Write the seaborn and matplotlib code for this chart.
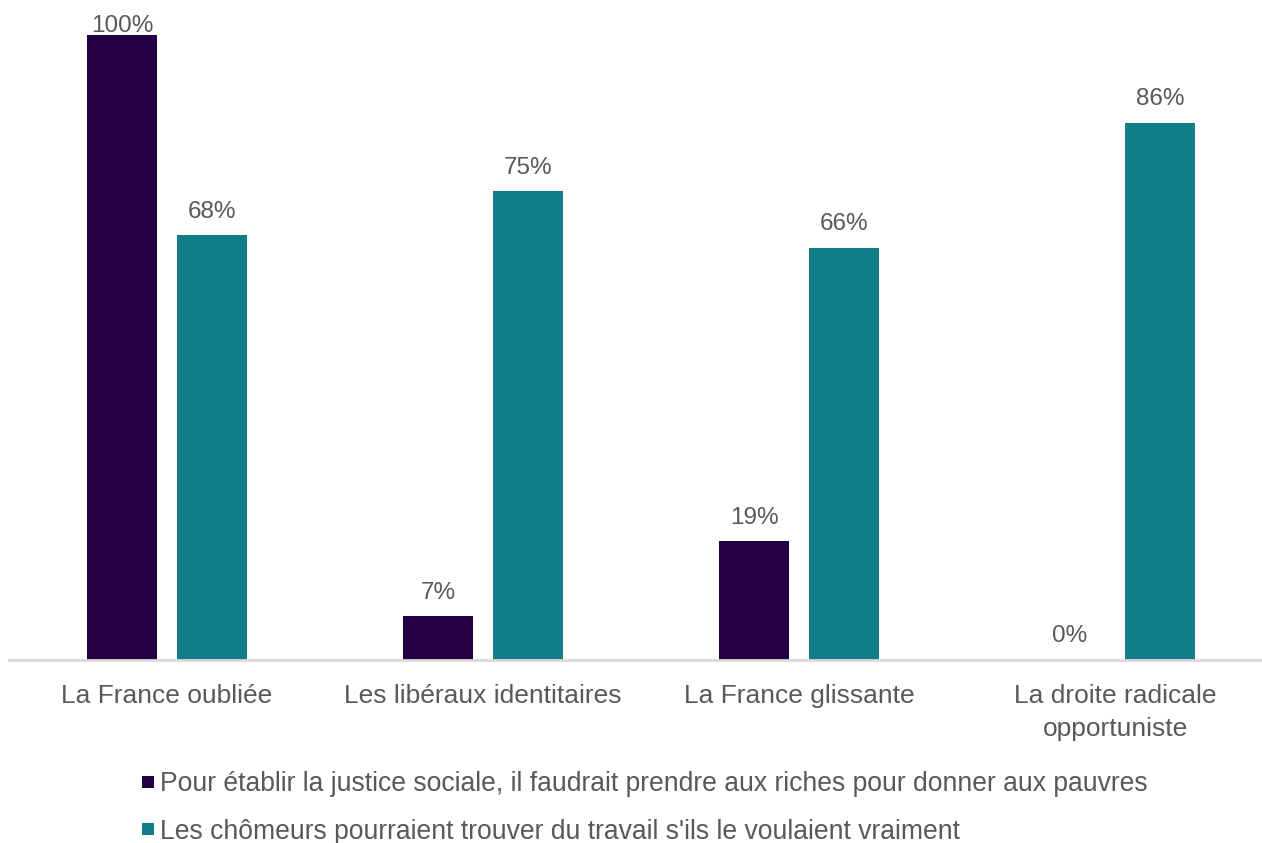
import matplotlib
matplotlib.use("Agg")
import matplotlib.pyplot as plt
import seaborn as sns
import pandas as pd
from matplotlib.lines import Line2D

categories = ["La France oubliée", "Les libéraux identitaires", "La France glissante",
              "La droite radicale\nopportuniste"]
series_names = ["Pour établir la justice sociale, il faudrait prendre aux riches pour donner aux pauvres",
                "Les chômeurs pourraient trouver du travail s'ils le voulaient vraiment"]
values_justice = [100, 7, 19, 0]
values_chomeurs = [68, 75, 66, 86]
colors = ["#230042", "#137d87"]

rows = []
for c, v in zip(categories, values_justice):
    rows.append({"cat": c, "serie": series_names[0], "val": v})
for c, v in zip(categories, values_chomeurs):
    rows.append({"cat": c, "serie": series_names[1], "val": v})
df = pd.DataFrame(rows)

sns.set_theme(style="white")
plt.rcParams["font.family"] = ["Liberation Sans", "DejaVu Sans"]
text_color = "#595959"

W, H = 1262, 843
fig = plt.figure(figsize=(W / 100, H / 100), dpi=100)
ax = fig.add_axes([9 / W, 183 / H, 1253 / W, 660 / H])

sns.barplot(data=df, x="cat", y="val", hue="serie", order=categories,
            hue_order=series_names, palette=colors, saturation=1,
            width=0.57, gap=0.22, linewidth=0, legend=False, ax=ax)

ax.set_ylim(0, 105.6)
ax.set_xlim(-0.5, -0.5 + 1253 / 316)
ax.set_xlabel("")
ax.set_ylabel("")
ax.set_yticks([])
for s in ["top", "right", "left"]:
    ax.spines[s].set_visible(False)
ax.spines["bottom"].set_color("#d9d9d9")
ax.spines["bottom"].set_linewidth(2)
ax.tick_params(axis="x", length=0, pad=17, labelsize=19, labelcolor=text_color)
for t in ax.get_xticklabels():
    t.set_linespacing(1.5)

for cont in ax.containers:
    anns = ax.bar_label(cont, fmt="%.0f%%", padding=9, fontsize=17.5, color=text_color)
    for a, bar in zip(anns, cont):
        if bar.get_height() >= 100:
            a.xyann = (0, -1.5)

handles = [Line2D([0], [0], marker="s", linestyle="none", markersize=9,
                  markerfacecolor=c, markeredgewidth=0) for c in colors]
fig.legend(handles, series_names, loc="upper left", bbox_to_anchor=(141 / W, 1 - 771 / H),
           frameon=False, fontsize=19.1, labelcolor=text_color, handlelength=0.5,
           handletextpad=0.2, labelspacing=0.82, borderpad=0, borderaxespad=0)

fig.savefig("out.png", dpi=100)
